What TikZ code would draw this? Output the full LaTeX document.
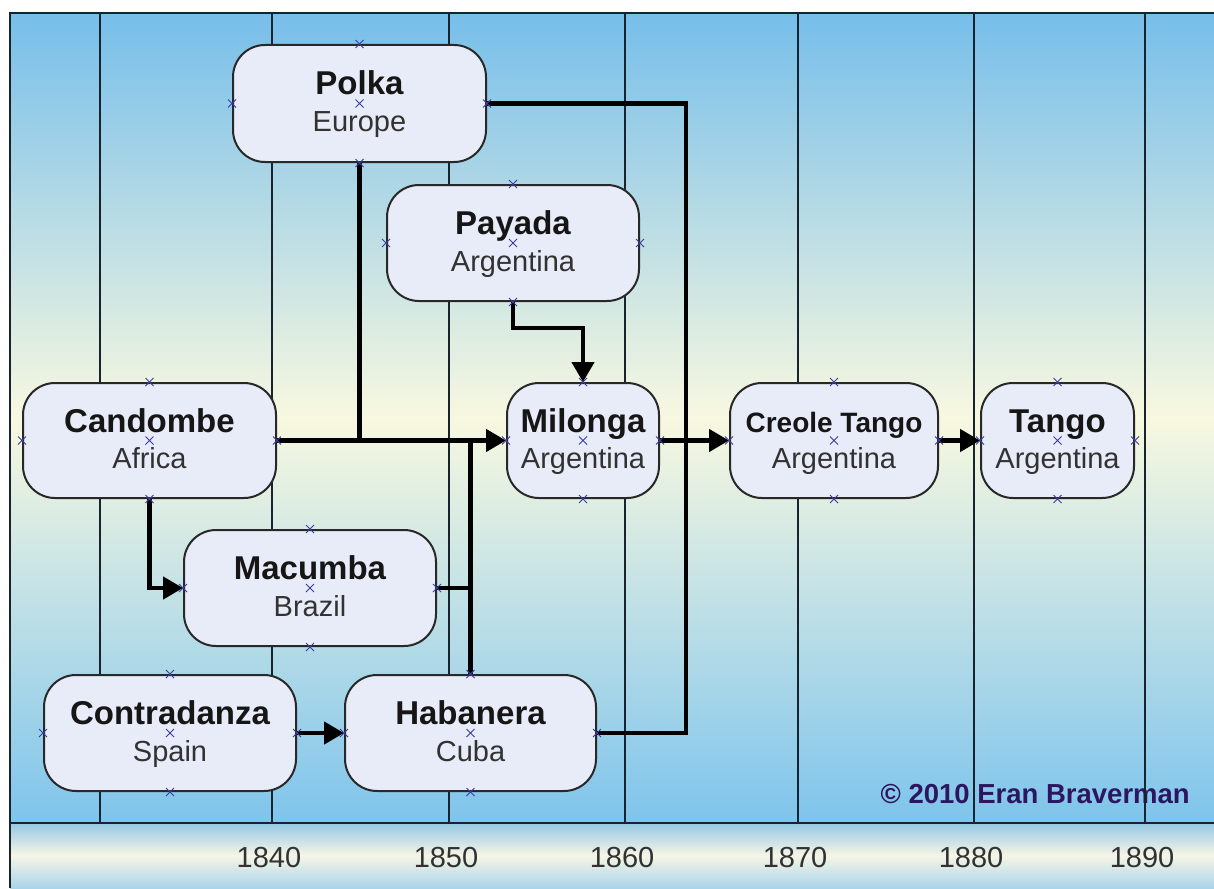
\documentclass[tikz,border=0pt]{standalone}
\usepackage{fontspec}
\setmainfont{Liberation Sans}
\usetikzlibrary{arrows.meta,calc}
\definecolor{skytop}{RGB}{118,190,234}
\definecolor{cream}{RGB}{248,248,224}
\definecolor{skybot}{RGB}{126,196,236}
\definecolor{bandtop}{RGB}{150,200,228}
\definecolor{bandmid}{RGB}{246,246,230}
\definecolor{bandbot}{RGB}{170,212,234}
\definecolor{gridc}{RGB}{25,35,45}
\definecolor{boxfill}{RGB}{232,236,248}
\definecolor{boxdraw}{RGB}{40,40,40}
\definecolor{markc}{RGB}{60,60,160}
\definecolor{copyc}{RGB}{45,22,95}
\definecolor{titlec}{RGB}{22,22,22}
\definecolor{subc}{RGB}{50,50,50}
\begin{document}
\begin{tikzpicture}[x=1pt,y=-1pt,
  stagebox/.style={draw=boxdraw, line width=2pt, fill=boxfill, rounded corners=32pt, inner sep=0pt},
  ttl/.style={anchor=base, inner sep=0pt, text=titlec, font=\bfseries\fontsize{33}{33}\selectfont},
  ttlsmall/.style={ttl, font=\bfseries\fontsize{28}{28}\selectfont},
  sub/.style={anchor=base, inner sep=0pt, text=subc, font=\fontsize{29}{29}\selectfont},
  conn/.style={line width=4.5pt, black, line join=miter},
  arr/.style={conn, -{Triangle[length=20pt,width=22pt]}},
  gridl/.style={gridc, line width=2.2pt},
  yr/.style={anchor=base, inner sep=0pt, text=subc, font=\fontsize{29}{29}\selectfont},
  mk/.style={markc, line width=1pt}
]
\useasboundingbox (0,0) rectangle (1214,888);
\fill[white] (0,0) rectangle (1214,888);
\fill[top color=skytop, bottom color=skybot, middle color=cream] (10,13) rectangle (1214,823);
\fill[top color=bandtop, bottom color=bandbot, middle color=bandmid] (10,823) rectangle (1214,888);

% copyright (gridlines pass over it)
\node[anchor=base east, inner sep=0pt, text=copyc, font=\bfseries\fontsize{27.5}{27.5}\selectfont] (copy) at (1190,803) {© 2010 Eran Braverman};

% gridlines
\foreach \x in {100,272,449,625,798,974,1145}
  \draw[gridl] (\x,13) -- (\x,823);
% frame and axis
\draw[gridc, line width=2.5pt] (10,888) -- (10,13) -- (1214,13);
\draw[gridc, line width=2.5pt] (10,823) -- (1214,823);

% years
\foreach \x/\yy in {272/1840,449/1850,625/1860,798/1870,974/1880,1145/1890}
  \node[yr] (yr\yy) at (\x-3,867) {\yy};

% stages
\node[stagebox, minimum width=253pt, minimum height=117pt] (polka) at (359.5,103.5) {};
\node[stagebox, minimum width=252pt, minimum height=116pt] (payada) at (513,243) {};
\node[stagebox, minimum width=253pt, minimum height=115pt] (candombe) at (149.5,440.5) {};
\node[stagebox, minimum width=152pt, minimum height=115pt] (milonga) at (583,440.5) {};
\node[stagebox, minimum width=208pt, minimum height=115pt] (creole) at (834,440.5) {};
\node[stagebox, minimum width=153pt, minimum height=115pt] (tango) at (1057.5,440.5) {};
\node[stagebox, minimum width=252pt, minimum height=116pt] (macumba) at (310,588) {};
\node[stagebox, minimum width=252pt, minimum height=116pt] (contradanza) at (170,733) {};
\node[stagebox, minimum width=251pt, minimum height=116pt] (habanera) at (470.5,733) {};

\foreach \n/\t/\s in {polka/Polka/Europe, payada/Payada/Argentina, candombe/Candombe/Africa,
    milonga/Milonga/Argentina, tango/Tango/Argentina, macumba/Macumba/Brazil,
    contradanza/Contradanza/Spain, habanera/Habanera/Cuba}{
  \node[ttl] (\n-t) at ([yshift=8.5pt]\n.center) {\t};
  \node[sub] (\n-s) at ([yshift=-28pt]\n.center) {\s};
}
\node[ttlsmall] (creole-t) at ([yshift=8.5pt]creole.center) {Creole Tango};
\node[sub] (creole-s) at ([yshift=-28pt]creole.center) {Argentina};

% connectors
\coordinate (pm) at (513,328);
\coordinate (loop) at (686,733);
\draw[conn] (polka.south) -- (polka.south |- candombe.east);
\draw[conn] (habanera.north) -- (habanera.north |- candombe.east);
\draw[conn] (macumba.east) -- (macumba.east -| habanera.north);
\draw[conn] (polka.east) -| (loop) -- (habanera.east);
\draw[arr] (candombe.east) -- (milonga.west);
\draw[arr] (candombe.south) |- (macumba.west);
\draw[arr] (payada.south) -- (pm) -| (milonga.north);
\draw[arr] (milonga.east) -- (creole.west);
\draw[arr] (creole.east) -- (tango.west);
\draw[arr] (contradanza.east) -- (habanera.west);

% connection point markers
\foreach \n in {polka,payada,candombe,milonga,creole,tango,macumba,contradanza,habanera}
  \foreach \a in {north,south,east,west,center}
    \draw[mk] ([shift={(-4,-4)}]\n.\a) -- ([shift={(4,4)}]\n.\a)
              ([shift={(-4,4)}]\n.\a) -- ([shift={(4,-4)}]\n.\a);
\end{tikzpicture}
\end{document}
